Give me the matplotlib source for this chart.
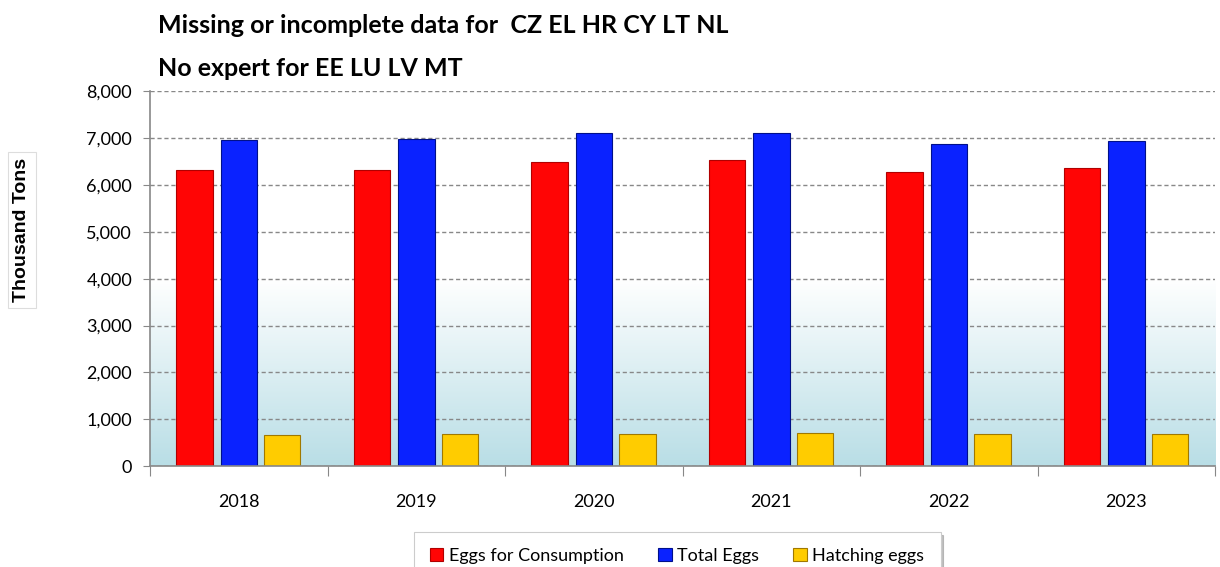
import numpy as np
import matplotlib
matplotlib.use("Agg")
import matplotlib.pyplot as plt
from matplotlib.colors import LinearSegmentedColormap

years = ["2018", "2019", "2020", "2021", "2022", "2023"]
eggs_consumption = [6310, 6310, 6480, 6535, 6285, 6360]
total_eggs = [6950, 6985, 7120, 7120, 6870, 6940]
hatching_eggs = [660, 695, 675, 710, 675, 680]

series = [
    ("Eggs for Consumption", eggs_consumption, "#ff0505", "#b00000"),
    ("Total Eggs", total_eggs, "#0a22ff", "#00108a"),
    ("Hatching eggs", hatching_eggs, "#ffcc00", "#a07800"),
]

plt.rcParams["font.family"] = ["Lato", "DejaVu Sans"]

fig = plt.figure(figsize=(12.2, 5.67), dpi=100)
ax = fig.add_axes([0.123, 0.178, 0.873, 0.661])

# background gradient: white on top, light blue at the bottom
grad = np.linspace(0, 1, 256).reshape(-1, 1)
cmap = LinearSegmentedColormap.from_list(
    "bg", [(0.0, "#b9dee6"), (0.5, "#ffffff"), (1.0, "#ffffff")])
ax.imshow(grad, aspect="auto", cmap=cmap, origin="lower",
          extent=(-0.5, len(years) - 0.5, 0, 8000), zorder=0)

x = np.arange(len(years))
offsets = [-0.25, 0.0, 0.245]
width = 0.205
for (label, vals, color, edge), off in zip(series, offsets):
    ax.bar(x + off, vals, width, color=color, edgecolor=edge,
           linewidth=0.8, label=label, zorder=3)

ax.set_xlim(-0.5, len(years) - 0.5)
ax.set_ylim(0, 8000)
ax.set_yticks(range(0, 8001, 1000))
ax.set_yticklabels([f"{v:,}" for v in range(0, 8001, 1000)], fontsize=13)

# category labels centred, tick marks on the boundaries
ax.set_xticks(np.arange(-0.5, len(years)), minor=False)
ax.set_xticklabels([])
ax.set_xticks(x, minor=True)
ax.set_xticklabels(years, minor=True, fontsize=13)
ax.tick_params(axis="x", which="minor", length=0, pad=20)
ax.tick_params(axis="x", which="major", length=7, color="#888888")
ax.tick_params(axis="y", length=5, color="#888888", pad=8)

ax.grid(axis="y", linestyle=(0, (3, 2)), color="#888888", linewidth=1.0, zorder=1)
for s in ["top", "right"]:
    ax.spines[s].set_visible(False)
for s in ["left", "bottom"]:
    ax.spines[s].set_color("#888888")
    ax.spines[s].set_linewidth(1.2)
ax.spines["bottom"].set_zorder(4)

fig.text(0.1295, 0.955, "Missing or incomplete data for  CZ EL HR CY LT NL",
         fontsize=18, fontweight="bold", va="center", ha="left")
fig.text(0.1295, 0.88, "No expert for EE LU LV MT",
         fontsize=18, fontweight="bold", va="center", ha="left")

fig.text(0.018, 0.594, "Thousand Tons", rotation=90, fontsize=14,
         fontweight="bold", family=["Liberation Sans", "DejaVu Sans"],
         ha="center", va="center",
         bbox=dict(boxstyle="square,pad=0.3", facecolor="white",
                   edgecolor="#dddddd", linewidth=0.8))

leg = fig.legend(loc="upper center", bbox_to_anchor=(0.555, 0.062), ncol=3,
                 fontsize=13, frameon=True, fancybox=False,
                 shadow={"color": "#999999", "alpha": 0.6},
                 borderpad=0.9, handlelength=0.75, handleheight=0.75,
                 handletextpad=0.3, columnspacing=1.9, borderaxespad=0)
leg.get_frame().set_edgecolor("#cccccc")
leg.get_frame().set_linewidth(0.8)

fig.savefig("out.png", dpi=100)
